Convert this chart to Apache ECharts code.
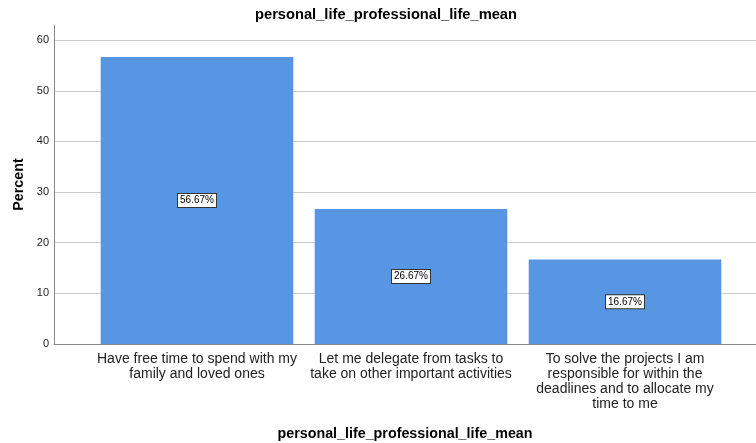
<!DOCTYPE html>
<html>
<head>
<meta charset="utf-8">
<script src="https://cdn.jsdelivr.net/npm/echarts@6/dist/echarts.min.js"></script>
<style>
  html, body { margin: 0; padding: 0; background: #fff; }
  #chart { width: 756px; height: 443px; }
</style>
</head>
<body>
<div id="chart"></div>
<script>
const categories = [
  'Have free time to spend with my\nfamily and loved ones',
  'Let me delegate from tasks to\ntake on other important activities',
  'To solve the projects I am\nresponsible for within the\ndeadlines and to allocate my\ntime to me'
]
const percents = [56.67, 26.67, 16.67]
const yMin = 0
const yMax = 63
const yStep = 10

const chart = echarts.init(document.getElementById('chart'))
const font = '"Liberation Sans", Arial, sans-serif'

const options = {
  animation: false,
  textStyle: { fontFamily: font },
  title: {
    text: 'personal_life_professional_life_mean',
    left: 381,
    textAlign: 'center',
    top: 2,
    textStyle: { fontSize: 14.7, fontWeight: 'bold', color: '#000', fontFamily: font }
  },
  grid: [
    // outer frame: y axis, gridlines, x axis line
    { left: 54, right: 0, top: 25, bottom: 99, containLabel: false, outerBoundsMode: 'none' },
    // inner band where the bars sit
    { left: 90, right: 24, top: 25, bottom: 99, containLabel: false, outerBoundsMode: 'none' }
  ],
  xAxis: [
    {
      gridIndex: 0,
      type: 'value',
      min: 0,
      max: 1,
      axisLine: { show: true, onZero: false, lineStyle: { color: '#888', width: 1 } },
      axisTick: { show: false },
      axisLabel: { show: false },
      splitLine: { show: false },
      name: 'personal_life_professional_life_mean',
      nameLocation: 'middle',
      nameGap: 83,
      nameTextStyle: { fontSize: 14.3, fontWeight: 'bold', color: '#000', fontFamily: font }
    },
    {
      gridIndex: 1,
      type: 'category',
      data: categories,
      axisLine: { show: false },
      axisTick: { show: false },
      axisLabel: {
        interval: 0,
        hideOverlap: false,
        color: '#222',
        fontSize: 14,
        lineHeight: 15,
        margin: 8,
        fontFamily: font
      }
    }
  ],
  yAxis: [
    {
      gridIndex: 0,
      type: 'value',
      min: yMin,
      max: yMax,
      interval: yStep,
      axisLine: { show: true, lineStyle: { color: '#888', width: 1 } },
      axisTick: { show: false },
      axisLabel: { color: '#222', fontSize: 11, margin: 5, showMaxLabel: false, fontFamily: font },
      splitLine: { show: true, showMaxLine: false, lineStyle: { color: '#ccc', width: 1 } },
      name: 'Percent',
      nameLocation: 'middle',
      nameGap: 28,
      nameTextStyle: { fontSize: 14.3, fontWeight: 'bold', color: '#000', fontFamily: font }
    },
    {
      gridIndex: 1,
      type: 'value',
      min: yMin,
      max: yMax,
      show: false
    }
  ],
  series: [
    {
      type: 'bar',
      xAxisIndex: 1,
      yAxisIndex: 1,
      data: percents,
      barCategoryGap: '10%',
      itemStyle: { color: '#5796E3' },
      label: {
        show: true,
        position: 'inside',
        formatter: (p) => p.value.toFixed(2) + '%',
        color: '#000',
        fontSize: 10,
        fontFamily: font,
        backgroundColor: '#fff',
        borderColor: '#333',
        borderWidth: 1,
        padding: [2, 2, 1, 2]
      }
    }
  ]
}

chart.setOption(options)
</script>
</body>
</html>
